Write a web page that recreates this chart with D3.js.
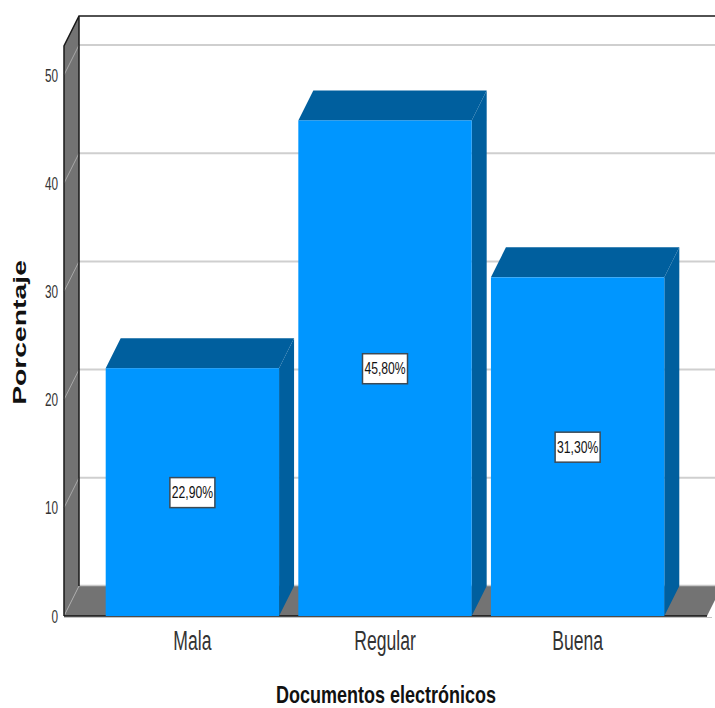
<!DOCTYPE html>
<html>
<head>
<meta charset="utf-8">
<script src="https://cdn.jsdelivr.net/npm/d3@7"></script>
<style>
html,body{margin:0;padding:0;background:#fff;overflow:hidden}
text{font-family:"Liberation Sans",Arial,sans-serif}
</style>
</head>
<body>
<svg id="chart" width="715" height="708"></svg>
<script>
const categories = ["Mala", "Regular", "Buena"];
const percentages = [22.9, 45.8, 31.3];
const percentLabels = ["22,90%", "45,80%", "31,30%"];
const yTicks = [0, 10, 20, 30, 40, 50];

const depthX = 15, depthY = -30;
const wallTopFront = 46;
const floorRight = 707;

const svg = d3.select("#chart");
const x = d3.scaleBand().domain(categories).range([64, 706]).paddingInner(0.1).paddingOuter(0.2165);
const y = d3.scaleLinear().domain([0, 50]).range([616, 75]);

const poly = pts => pts.map(p => p.join(",")).join(" ");
const WALL = "#737373", FRONT = "#0096ff", SHADE = "#005f9e";

// Stretch or squeeze text along its baseline by factor k
function fitText(sel, k) {
  sel.each(function () {
    const w = this.getComputedTextLength();
    d3.select(this).attr("textLength", w * k).attr("lengthAdjust", "spacingAndGlyphs");
  });
}

// Side wall and floor of the 3D frame
svg.append("polygon").attr("points", poly([[64, wallTopFront], [64 + depthX, wallTopFront + depthY], [64 + depthX, y(0) + depthY], [64, y(0)]])).attr("fill", WALL);
svg.append("polygon").attr("points", poly([[64, y(0)], [64 + depthX, y(0) + depthY], [floorRight + depthX, y(0) + depthY], [floorRight, y(0)]])).attr("fill", WALL);
svg.append("line").attr("x1", 64 + depthX).attr("x2", 715).attr("y1", y(0) + depthY - 0.5).attr("y2", y(0) + depthY - 0.5).attr("stroke", "#c8c8c8").attr("stroke-width", 1.5);

// Gridlines across the back wall, folding down the side wall
const grid = svg.append("g").selectAll("g").data(yTicks.filter(t => t > 0)).join("g");
grid.append("line").attr("x1", 64 + depthX).attr("x2", 715).attr("y1", d => y(d) + depthY).attr("y2", d => y(d) + depthY).attr("stroke", "#cfcfcf").attr("stroke-width", 2);
grid.append("line").attr("x1", 64).attr("x2", 64 + depthX).attr("y1", d => y(d)).attr("y2", d => y(d) + depthY).attr("stroke", "#a8a8a8").attr("stroke-width", 1);
svg.append("line").attr("x1", 64).attr("x2", 64 + depthX).attr("y1", y(0)).attr("y2", y(0) + depthY).attr("stroke", "#a8a8a8").attr("stroke-width", 1);

// Frame outline
svg.append("path").attr("d", `M64,${y(0)}V${wallTopFront}L${64 + depthX},${wallTopFront + depthY}H715M${64 + depthX},${wallTopFront + depthY}V${y(0) + depthY}`)
  .attr("fill", "none").attr("stroke", "#1a1a1a").attr("stroke-width", 1.5);
svg.append("line").attr("x1", 64).attr("x2", floorRight).attr("y1", y(0)).attr("y2", y(0)).attr("stroke", "#111").attr("stroke-width", 1.5);
svg.append("line").attr("x1", 64).attr("x2", 712).attr("y1", y(0) + 1.5).attr("y2", y(0) + 1.5).attr("stroke", "#c4c4c4").attr("stroke-width", 1);

// Bars with top and side faces
const bars = svg.append("g").selectAll("g").data(categories.map((c, i) => ({c, v: percentages[i], label: percentLabels[i]}))).join("g");
bars.append("polygon").attr("fill", SHADE).attr("points", d => {
  const r = x(d.c) + x.bandwidth();
  return poly([[r, y(d.v)], [r + depthX, y(d.v) + depthY], [r + depthX, y(0) + depthY], [r, y(0)]]);
});
bars.append("polygon").attr("fill", SHADE).attr("points", d => {
  const l = x(d.c), r = l + x.bandwidth();
  return poly([[l, y(d.v)], [l + depthX, y(d.v) + depthY], [r + depthX, y(d.v) + depthY], [r, y(d.v)]]);
});
bars.append("rect").attr("fill", FRONT).attr("x", d => x(d.c)).attr("y", d => y(d.v)).attr("width", x.bandwidth()).attr("height", d => y(0) - y(d.v));

// Value labels in boxes at the middle of each bar
const boxW = 45, boxH = 30;
bars.append("rect").attr("x", d => x(d.c) + x.bandwidth() / 2 - boxW / 2).attr("y", d => (y(d.v) + y(0)) / 2 - boxH / 2 + 0.5).attr("width", boxW).attr("height", boxH)
  .attr("fill", "#fff").attr("stroke", "#3c4a55").attr("stroke-width", 1.5);
bars.append("text").attr("x", d => x(d.c) + x.bandwidth() / 2).attr("y", d => (y(d.v) + y(0)) / 2 + 6).attr("text-anchor", "middle")
  .attr("font-size", 16).attr("fill", "#111").text(d => d.label).call(fitText, 0.76);

// Axes
const yAxis = svg.append("g").attr("transform", "translate(64,0)").call(d3.axisLeft(y).tickValues(yTicks).tickSize(0).tickPadding(6).tickFormat(d3.format("d")));
yAxis.select(".domain").remove();
yAxis.selectAll("text").attr("font-size", 19).attr("fill", "#333").style("font-family", "'Liberation Sans'").call(fitText, 0.62);

const xAxis = svg.append("g").attr("transform", `translate(0,${y(0)})`).call(d3.axisBottom(x).tickSize(0).tickPadding(15));
xAxis.select(".domain").remove();
xAxis.selectAll("text").attr("font-size", 27).attr("fill", "#333").style("font-family", "'Liberation Sans'").call(fitText, 0.65);

svg.append("text").attr("x", 386).attr("y", 702.5).attr("text-anchor", "middle").attr("font-size", 24).attr("font-weight", "bold").attr("fill", "#111").text("Documentos electrónicos").call(fitText, 0.75);
svg.append("text").attr("transform", "translate(26,332.5) rotate(-90)").attr("text-anchor", "middle").attr("font-size", 19).attr("font-weight", "bold").attr("fill", "#111").text("Porcentaje").call(fitText, 1.49);
</script>
</body>
</html>
